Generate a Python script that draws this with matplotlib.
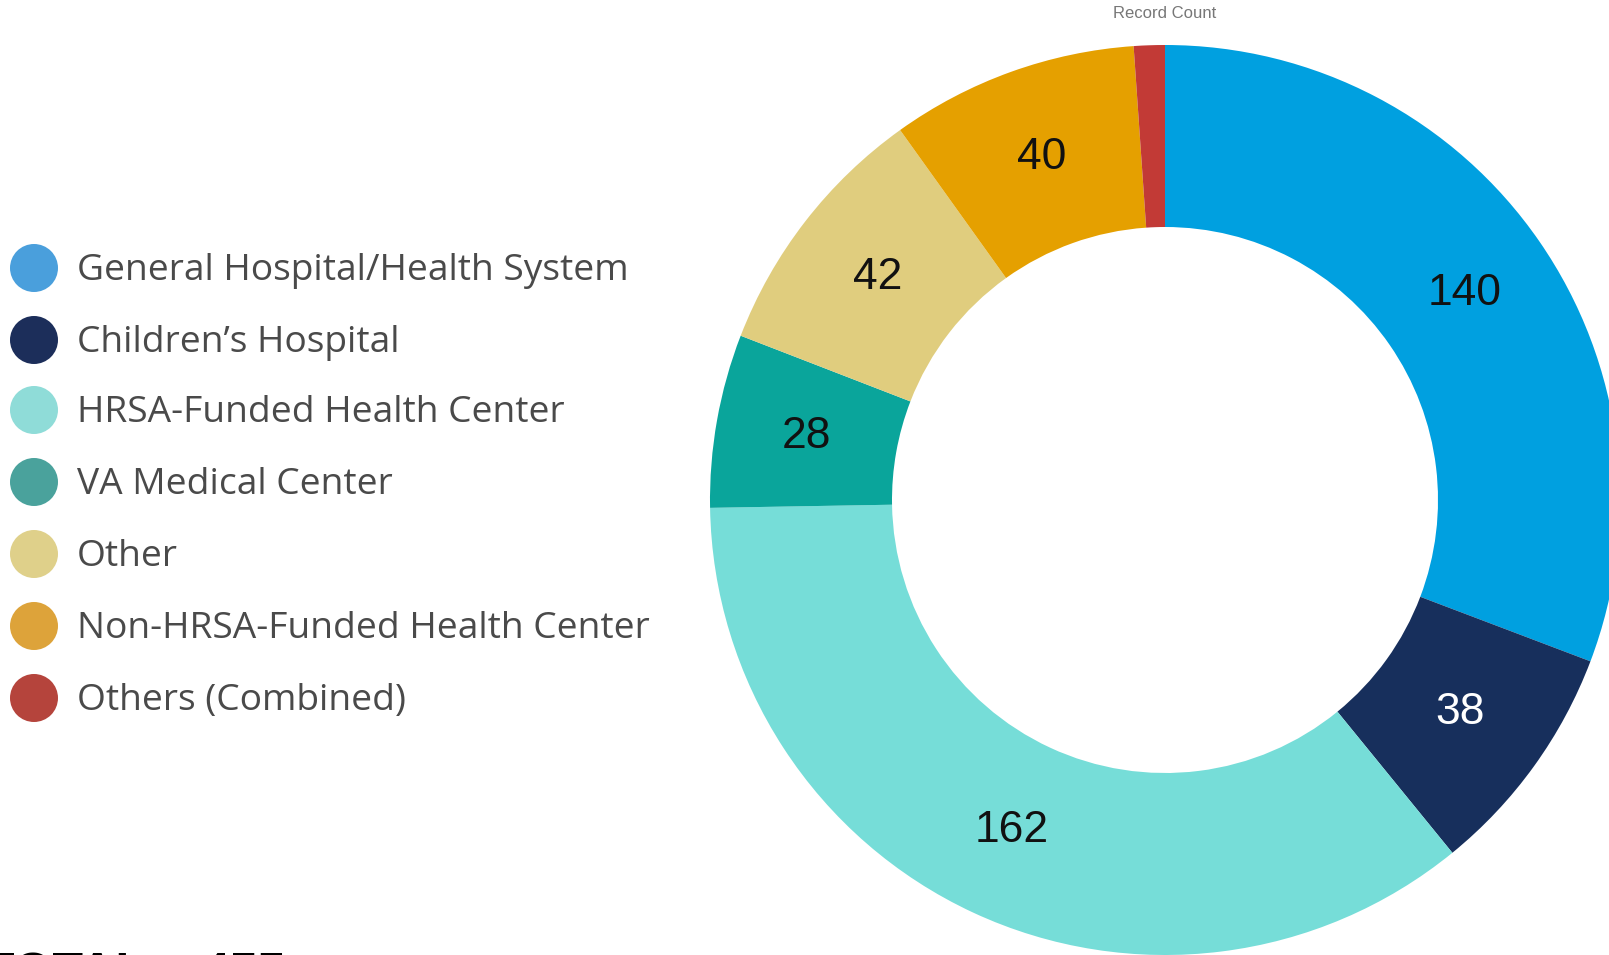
import numpy as np
import matplotlib.pyplot as plt

categories = ['General Hospital/Health System', 'Children\u2019s Hospital',
              'HRSA-Funded Health Center', 'VA Medical Center', 'Other',
              'Non-HRSA-Funded Health Center', 'Others (Combined)']
counts = [140, 38, 162, 28, 42, 40, 5]
slice_colors = ['#00a0e0', '#172f5c', '#76ddd8', '#0aa59b', '#e0cd7e', '#e5a000', '#c23a36']
legend_colors = ['#4a9fdc', '#1c2e5a', '#8fdcd8', '#4aa29c', '#dfd08a', '#dda33a', '#b5443c']
total_label = 'TOTAL = 455'

W, H = 1609, 955
fig = plt.figure(figsize=(W / 100, H / 100), dpi=100)

# donut, centre at (1165, 500) px, outer radius 455 px
ax = fig.add_axes([710 / W, 0, 910 / W, 910 / H])
wedges, _ = ax.pie(counts, colors=slice_colors, startangle=90, counterclock=False,
                   radius=1.0, wedgeprops=dict(width=0.4, linewidth=0))
ax.set_xlim(-1, 1)
ax.set_ylim(-1, 1)
ax.set_aspect('equal')
ax.axis('off')

tot = sum(counts)
cum = 0
for v, c in zip(counts, slice_colors):
    mid = 90 - (cum + v / 2) / tot * 360
    cum += v
    if v < 10:
        continue
    r = 0.8
    col = 'white' if c == '#172f5c' else '#111111'
    ax.text(r * np.cos(np.radians(mid)), r * np.sin(np.radians(mid)), str(v),
            ha='center', va='center', fontsize=32, color=col, family='Liberation Sans')

# overlay in pixel coordinates for legend and titles
ov = fig.add_axes([0, 0, 1, 1], facecolor='none')
ov.set_xlim(0, W)
ov.set_ylim(H, 0)
ov.axis('off')

row_y = [268, 340, 410, 482, 554, 626, 698]
ov.scatter([34] * len(row_y), row_y, s=(48 * 0.72) ** 2, c=legend_colors, linewidths=0)
for y, lab in zip(row_y, categories):
    ov.text(77, y + 3, lab, ha='left', va='center', fontsize=26.7, color='#4a4a4a',
            family='Open Sans')

ov.text(1165, 14, 'Record Count', ha='center', va='center', fontsize=12,
        color='#777777', family='Liberation Sans')
ov.text(285, 952, total_label, ha='right', va='top', fontsize=36,
        fontweight='bold', color='black', family='Liberation Sans')

plt.savefig('out.png', dpi=100)
